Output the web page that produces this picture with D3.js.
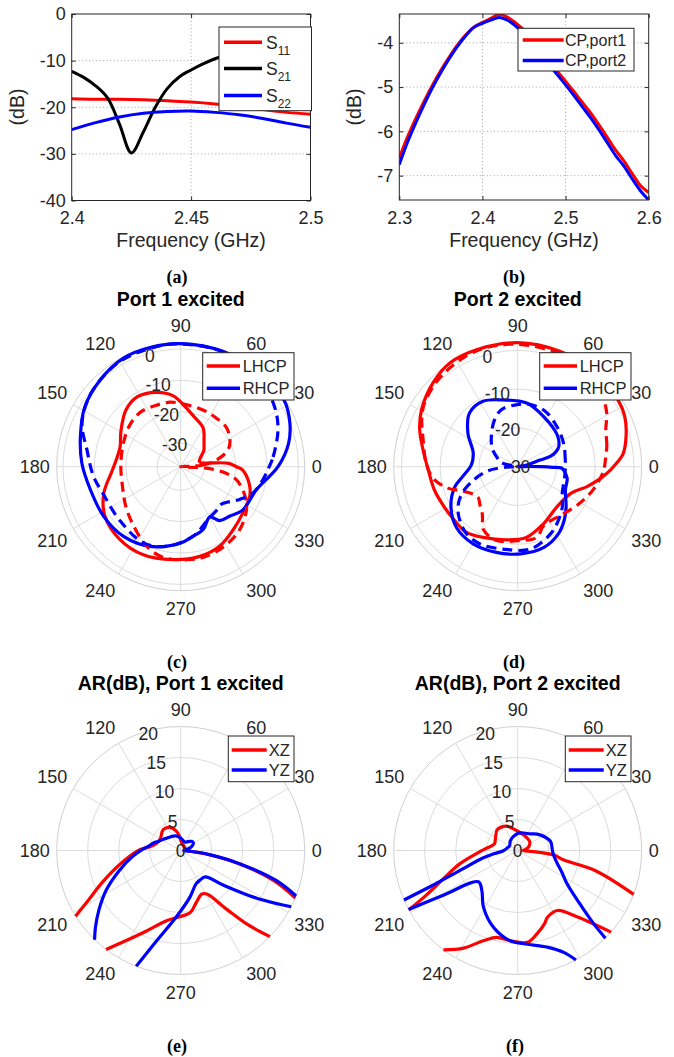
<!DOCTYPE html>
<html>
<head>
<meta charset="utf-8">
<script src="https://cdn.jsdelivr.net/npm/d3@7"></script>
<style>
  body { margin: 0; background: #fff; }
  svg { display: block; font-family: "Liberation Sans", Arial, Helvetica, sans-serif; }
</style>
</head>
<body>
<svg id="fig" width="674" height="1057"></svg>
<script>
// ---------- (a) S-parameters ----------
const freqA = [2.40, 2.41, 2.42, 2.43, 2.44, 2.45, 2.46, 2.47, 2.48, 2.49, 2.50];
const s11 = [-18.2, -18.3, -18.3, -18.4, -18.6, -18.9, -19.3, -19.8, -20.5, -21.1, -21.5];
const s22 = [-24.8, -23.3, -22.1, -21.3, -20.9, -20.8, -21.1, -21.6, -22.4, -23.4, -24.3];
const freqS21 = [2.400, 2.405, 2.410, 2.415, 2.420, 2.425, 2.430, 2.435, 2.440, 2.445, 2.450, 2.455, 2.460, 2.470, 2.480, 2.490, 2.500];
const s21 = [-12.3, -13.6, -15.4, -18.0, -23.6, -29.8, -25.3, -20.0, -16.0, -13.5, -12.0, -10.7, -9.6, -8.0, -7.0, -6.2, -5.6];
const xTicksA = [2.4, 2.45, 2.5];
const yTicksA = [0, -10, -20, -30, -40];

// ---------- (b) CP gain ----------
const freqB = [2.30, 2.31, 2.32, 2.33, 2.34, 2.35, 2.36, 2.37, 2.38, 2.39, 2.40, 2.41, 2.42, 2.43, 2.44, 2.45,
               2.46, 2.47, 2.48, 2.49, 2.50, 2.51, 2.52, 2.53, 2.54, 2.55, 2.56, 2.57, 2.58, 2.59, 2.60];
const cpPort1 = [-6.60, -6.12, -5.70, -5.31, -4.95, -4.62, -4.32, -4.05, -3.82, -3.64, -3.54, -3.45, -3.36, -3.42, -3.55, -3.71,
                 -3.92, -4.16, -4.41, -4.64, -4.87, -5.10, -5.34, -5.58, -5.85, -6.13, -6.42, -6.66, -6.95, -7.22, -7.38];
const cpPort2 = [-6.75, -6.24, -5.80, -5.39, -5.01, -4.67, -4.36, -4.08, -3.84, -3.65, -3.56, -3.49, -3.43, -3.49, -3.62, -3.79,
                 -4.00, -4.24, -4.49, -4.72, -4.95, -5.19, -5.44, -5.69, -5.96, -6.25, -6.54, -6.78, -7.07, -7.34, -7.55];
const xTicksB = [2.3, 2.4, 2.5, 2.6];
const yTicksB = [-4, -5, -6, -7];

// ---------- polar grid ----------
const thetaTicks = [0, 30, 60, 90, 120, 150, 180, 210, 240, 270, 300, 330];
const rTicksDb = [-30, -20, -10, 0];
const rTicksAr = [0, 5, 10, 15, 20];

// ---------- (c) Port 1 excited (dB) ----------
const p1LhcpSolidDeg = [0, 4, 7, 10, 16, 25, 35, 42, 48, 60, 76, 88, 96, 108, 122, 134, 149, 162, 172, 183, 199, 213, 230, 247, 265, 282, 296, 310, 323, 337, 346, 357];
const p1LhcpSolidDb  = [-19.8, -22.1, -27.4, -30.6, -31.3, -30.5, -28.5, -27.5, -26.4, -23.2, -20.8, -17.6, -14.8, -12.6, -11.3, -12.4, -15.3, -17.2, -17.0, -15.7, -11.6, -8.7, -7.3, -7.0, -7.8, -8.3, -9.3, -11.4, -12.8, -13.6, -15.0, -17.8];
const p1LhcpDashDeg  = [0, 4, 10, 19, 28, 41, 54, 68, 84, 99, 113, 126, 140, 155, 177, 199, 216, 232, 247, 259, 274, 286, 300, 313, 327, 337, 347, 353, 357];
const p1LhcpDashDb   = [-38, -30.7, -26.2, -21.7, -19.7, -18.3, -18.3, -18.1, -17.7, -16.7, -16.4, -15.9, -16.5, -17.6, -18.4, -17.9, -15.9, -13.3, -9.9, -8.1, -7.8, -7.8, -8.7, -10.0, -12.5, -15.5, -19.4, -24.1, -30.0];
const p1RhcpSolidDeg = [0, 12, 22, 33, 50, 70, 90, 104, 118, 133, 148, 163, 178, 194, 213, 231, 249, 270, 280, 290, 300, 306, 315, 325, 343, 354];
const p1RhcpSolidDb  = [-6.5, -2.4, 0.0, 1.7, 1.7, 1.6, 1.7, 1.7, 1.6, 0.2, -1.5, -4.1, -6.0, -7.8, -8.3, -8.8, -10.3, -13.2, -15.0, -16.3, -19.0, -16.3, -15.3, -13.4, -12.3, -9.0];
const p1RhcpDashDeg  = [0, 6, 21, 33, 50, 70, 90, 100, 120, 140, 156, 170, 186, 198, 222, 244, 260, 280, 299, 310, 317, 331, 340, 351];
const p1RhcpDashDb   = [-9.3, -7.9, -4.3, -1.95, 0.5, 1.5, 1.6, 1.6, 1.2, -0.5, -3.1, -7.2, -9.5, -11.2, -11.6, -10.5, -11.7, -15.0, -18.8, -19.5, -19.9, -16.0, -13.0, -11.0];

// ---------- (d) Port 2 excited (dB) ----------
const p2LhcpSolidDeg = [0, 7, 16, 25, 34, 50, 70, 90, 109, 123, 135, 149, 159, 170, 182, 196, 209, 220, 232, 244, 261, 277, 294, 314, 333, 344, 352, 358];
const p2LhcpSolidDb  = [-5.3, -2.6, -0.9, 0.5, 1.1, 1.8, 1.7, 2.0, 2.0, 2.0, 0.8, -1.1, -2.9, -5.2, -6.9, -7.7, -8.4, -8.6, -8.5, -9.7, -10.9, -11.6, -13.8, -15.5, -14.7, -11.4, -8.4, -6.0];
const p2LhcpDashDeg  = [0, 13, 23, 31, 40, 50, 65, 90, 110, 130, 145, 152, 164, 178, 188, 197, 204, 217, 225, 233, 242, 254, 270, 285, 294, 311, 327, 344, 358];
const p2LhcpDashDb   = [-7.6, -6.4, -5.3, -3.2, -1.5, -0.2, 1.0, 1.6, 1.7, 0.6, -0.8, -2.0, -4.6, -6.4, -8.0, -11.1, -14.5, -17.1, -16.2, -14.8, -11.4, -10.2, -10.9, -11.1, -13.4, -13.3, -11.7, -9.5, -7.7];
const p2RhcpSolidDeg = [0, 1, 3, 10, 15, 16.6, 17.5, 21, 26, 39, 63, 82, 102, 118, 132, 146, 163, 178, 190, 198, 211, 225, 240, 256, 272, 288, 301, 311, 320, 334, 347, 355, 358, 359];
const p2RhcpSolidDb  = [-24, -27, -30, -27.6, -25.5, -24.0, -21.2, -19.5, -18.2, -16.9, -15.4, -13.4, -12.4, -10.9, -11.4, -14.5, -18.0, -18.0, -15.6, -12.9, -9.9, -7.7, -7.0, -7.2, -7.5, -8.1, -9.7, -11.7, -13.7, -16.3, -16.9, -18.0, -18.6, -21.0];
const p2RhcpDashDeg  = [0, 8, 27, 46, 64, 79, 91, 106, 119, 142, 155, 166, 175, 182, 188, 197, 206, 214, 223, 233, 244, 260, 279, 296, 307, 318, 329, 348];
const p2RhcpDashDb   = [-17.7, -17.6, -16.7, -15.5, -14.0, -13.6, -14.0, -14.7, -17.1, -21.5, -24.0, -25.7, -29.5, -27.0, -22.3, -18.0, -13.9, -11.4, -9.6, -8.2, -7.8, -8.4, -8.5, -10.7, -12.6, -14.5, -16.6, -17.6];

// ---------- (e) axial ratio, port 1 (null = above 20 dB) ----------
const arP1XzDeg = [0, 30, 60, 82, 95, 102, 115, 130, 149, 158, 164, 173, 179, 191, 202, 209, 212, 220, 233, 239, 247, 259, 269, 279, 287, 296, 301, 308, 312, 316, 327, 337.5, 342, 347, 352, 355];
const arP1Xz    = [1.0, 0.8, 0.9, 1.2, 2.3, 3.1, 4.1, 4.4, 3.8, 3.9, 4.1, 5.0, 6.6, 9.5, 13.6, 17.4, 20, null, 20, 16.9, 14.1, 11.5, 10.7, 10.1, 8.7, 7.8, 8.2, 12.0, 16.0, 20, null, 20, 15.8, 9.9, 4.3, 1.5];
const arP1YzDeg = [0, 10, 20, 32, 40, 49, 65, 74, 90, 110, 123, 135, 147, 158, 165, 172, 178, 187, 198, 208, 216, 222, 226, 237, 249, 255, 266, 281, 295, 303, 313, 321, 328, 333, 336, 338.5, 342.5, 347.5, 352, 356];
const arP1Yz    = [0.5, 1.0, 1.9, 2.4, 2.3, 1.9, 1.5, 1.6, 2.0, 2.5, 2.7, 2.9, 3.35, 3.9, 4.6, 5.2, 6.1, 7.8, 10.4, 13.6, 16.3, 18.5, 20, null, 20, 15.1, 10.8, 7.7, 5.9, 5.7, 5.8, 8.9, 14.6, 20, null, 20, 16.2, 9.6, 4.5, 1.3];

// ---------- (f) axial ratio, port 2 ----------
const arP2XzDeg = [0, 8, 19, 36, 50, 69, 86, 100, 110, 120, 135, 151, 164, 172, 178, 184, 193, 201, 206, 208.6, 220, 233.2, 241, 249, 256.5, 265, 276, 283, 290, 294, 303.5, 312, 318.8, 330, 339.3, 345.6, 348.3, 352.9, 355.8, 358];
const arP2Xz    = [0.9, 1.3, 1.9, 2.4, 2.5, 2.7, 3.0, 3.5, 4.1, 4.5, 4.7, 4.1, 3.9, 4.5, 5.4, 6.6, 9.6, 12.9, 16.4, 20, null, 20, 18.0, 15.6, 14.4, 14.6, 14.9, 13.8, 12.6, 11.8, 11.6, 14.45, 20, null, 20, 12.8, 7.6, 5.9, 2.6, 1.0];
const arP2YzDeg = [0, 15, 28, 40, 52, 70, 87, 100, 115, 130, 150, 165, 181, 188, 192, 199, 202.5, 203.5, 206, 208.4, 211, 218.6, 228, 239, 252.5, 265, 276, 287, 294.5, 298, 306, 315, 316, 318, 326, 334, 342, 350, 355];
const arP2Yz    = [5.6, 5.5, 4.8, 4.1, 3.4, 3.0, 2.8, 2.5, 2.2, 1.9, 1.5, 1.7, 2.3, 3.9, 5.65, 9.85, 15.4, 20, null, 20, 14.0, 8.1, 8.65, 10.7, 13.0, 14.6, 15.2, 16.3, 18.1, 20, null, 20, 17.1, 14.45, 9.6, 7.9, 6.7, 6.0, 5.75];

// ---------- drawing ----------
const svg = d3.select("#fig");
const RED = "#ff0000", BLUE = "#0000ff", BLACK = "#000000", INK = "#262626";
const RAD = Math.PI / 180;

function legendBox(g, box, entries, lx0, lx1, tx, fontSize) {
  const lg = g.append("g");
  lg.append("rect").attr("x", box[0]).attr("y", box[1])
    .attr("width", box[2] - box[0]).attr("height", box[3] - box[1])
    .attr("fill", "#fff").attr("stroke", INK).attr("stroke-width", 1);
  entries.forEach(e => {
    lg.append("line").attr("x1", lx0).attr("x2", lx1).attr("y1", e.y).attr("y2", e.y)
      .attr("stroke", e.color).attr("stroke-width", 3.5);
    const t = lg.append("text").attr("x", tx).attr("y", e.y).attr("dy", "0.36em")
      .attr("font-size", fontSize).attr("fill", INK);
    if (e.sub) {
      t.append("tspan").text(e.label);
      t.append("tspan").attr("font-size", 12).attr("dy", 6).text(e.sub);
    } else {
      t.text(e.label);
    }
  });
}

function drawCartesian(cfg) {
  const x = d3.scaleLinear().domain(cfg.xDomain).range([cfg.left, cfg.right]);
  const y = d3.scaleLinear().domain(cfg.yDomain).range([cfg.bottom, cfg.top]);
  const g = svg.append("g");

  const grid = g.append("g").attr("stroke", "#a3a3a3").attr("stroke-width", 1).attr("stroke-dasharray", "1,2.5");
  grid.selectAll(".gx").data(cfg.xTicks.filter(t => x(t) > cfg.left + 1 && x(t) < cfg.right - 1)).join("line")
    .attr("x1", d => x(d)).attr("x2", d => x(d)).attr("y1", cfg.top).attr("y2", cfg.bottom);
  grid.selectAll(".gy").data(cfg.yTicks.filter(t => y(t) > cfg.top + 1 && y(t) < cfg.bottom - 1)).join("line")
    .attr("y1", d => y(d)).attr("y2", d => y(d)).attr("x1", cfg.left).attr("x2", cfg.right);

  g.append("clipPath").attr("id", cfg.id).append("rect")
    .attr("x", cfg.left).attr("y", cfg.top).attr("width", cfg.right - cfg.left).attr("height", cfg.bottom - cfg.top);
  const lines = g.append("g").attr("clip-path", `url(#${cfg.id})`);
  const line = d3.line().x(d => x(d[0])).y(d => y(d[1])).curve(d3.curveCatmullRom);
  cfg.series.forEach(s => {
    lines.append("path").datum(s.x.map((xv, i) => [xv, s.y[i]]))
      .attr("d", line).attr("fill", "none").attr("stroke", s.color)
      .attr("stroke-width", 3).attr("stroke-linejoin", "round");
  });

  const ax = g.append("g").attr("transform", `translate(0,${cfg.bottom})`)
    .call(d3.axisBottom(x).tickValues(cfg.xTicks).tickFormat(d => String(d)).tickSizeInner(-4).tickSizeOuter(0).tickPadding(11));
  const ay = g.append("g").attr("transform", `translate(${cfg.left},0)`)
    .call(d3.axisLeft(y).tickValues(cfg.yTicks).tickFormat(d => String(d)).tickSizeInner(-4).tickSizeOuter(0).tickPadding(6));
  const axT = g.append("g").attr("transform", `translate(0,${cfg.top})`)
    .call(d3.axisTop(x).tickValues(cfg.xTicks).tickFormat("").tickSizeInner(-4).tickSizeOuter(0));
  const ayR = g.append("g").attr("transform", `translate(${cfg.right},0)`)
    .call(d3.axisRight(y).tickValues(cfg.yTicks).tickFormat("").tickSizeInner(-4).tickSizeOuter(0));
  [ax, ay, axT, ayR].forEach(a => {
    a.select(".domain").remove();
    a.attr("font-size", 18).attr("font-family", null);
    a.selectAll("text").attr("fill", INK);
    a.selectAll("line").attr("stroke", INK);
  });

  g.append("rect").attr("x", cfg.left).attr("y", cfg.top)
    .attr("width", cfg.right - cfg.left).attr("height", cfg.bottom - cfg.top)
    .attr("fill", "none").attr("stroke", INK).attr("stroke-width", 1);

  g.append("text").attr("x", (cfg.left + cfg.right) / 2).attr("y", 240).attr("dy", "0.35em")
    .attr("text-anchor", "middle").attr("font-size", 19.5).attr("fill", INK).text("Frequency (GHz)");
  g.append("text").attr("transform", `translate(${cfg.yLabelX},107) rotate(-90)`).attr("dy", "0.35em")
    .attr("text-anchor", "middle").attr("font-size", 19.5).attr("fill", INK).text("(dB)");

  legendBox(g, cfg.legend.box, cfg.legend.entries, cfg.legend.lx0, cfg.legend.lx1, cfg.legend.tx, cfg.legend.fontSize);
}

function rotateToGap(deg, val) {
  const k = val.indexOf(null);
  if (k < 0) return deg.map((t, i) => ({ t, v: val[i] }));
  const pts = deg.map((t, i) => ({ t, v: val[i] }));
  return pts.slice(k).concat(pts.slice(0, k));
}

function drawPolar(cfg) {
  const R = 124;
  const g = svg.append("g").attr("transform", `translate(${cfg.cx},${cfg.cy})`);
  const r = d3.scaleLinear().domain(cfg.rDomain).range([0, R]).clamp(true);

  const grid = g.append("g").attr("fill", "none").attr("stroke", "#dcdcdc").attr("stroke-width", 1);
  grid.selectAll("circle").data(cfg.rTicks.filter(t => r(t) > 0.5 && r(t) < R - 0.5)).join("circle")
    .attr("r", d => r(d));
  grid.append("circle").attr("r", R).attr("stroke", "#d0d0d0");
  grid.selectAll("line").data(thetaTicks).join("line")
    .attr("x1", 0).attr("y1", 0)
    .attr("x2", d => R * Math.cos(d * RAD)).attr("y2", d => -R * Math.sin(d * RAD));

  cfg.series.forEach(s => {
    const closed = s.val.indexOf(null) < 0;
    const pts = rotateToGap(s.deg, s.val);
    const line = d3.lineRadial()
      .angle(d => (90 - d.t) * RAD)
      .radius(d => r(d.v))
      .defined(d => d.v !== null)
      .curve(closed ? d3.curveCatmullRomClosed : d3.curveCatmullRom);
    g.append("path").attr("d", line(pts)).attr("fill", "none")
      .attr("stroke", s.color).attr("stroke-width", 3.2)
      .attr("stroke-linejoin", "round")
      .attr("stroke-dasharray", s.dashed ? "10,6" : null);
  });

  // angle labels
  g.append("g").selectAll("text").data(thetaTicks).join("text")
    .attr("font-size", 18).attr("fill", INK)
    .attr("x", d => (R + 7) * Math.cos(d * RAD))
    .attr("y", d => {
      const s = Math.sin(d * RAD);
      const py = -(R + 11) * s;
      if (s > 0.1) return py;
      if (s < -0.1) return py + 13;
      return py + 6.5;
    })
    .attr("text-anchor", d => {
      const c = Math.cos(d * RAD);
      return c > 0.1 ? "start" : (c < -0.1 ? "end" : "middle");
    })
    .text(d => String(d));

  // radial labels
  const la = 105.5 * RAD;
  g.append("g").selectAll("text").data(cfg.rTicks).join("text")
    .attr("font-size", 17.5).attr("fill", INK).attr("text-anchor", "middle").attr("dy", "0.36em")
    .attr("x", d => 0.98 * r(d) * Math.cos(la))
    .attr("y", d => -0.98 * r(d) * Math.sin(la))
    .text(d => String(d));

  svg.append("text").attr("x", cfg.cx).attr("y", cfg.titleY).attr("dy", "0.35em")
    .attr("text-anchor", "middle").attr("font-size", 19.5).attr("font-weight", "bold").attr("fill", BLACK)
    .text(cfg.title);

  legendBox(svg, cfg.legend.box, cfg.legend.entries, cfg.legend.lx0, cfg.legend.lx1, cfg.legend.tx, 16.5);
}

// (a)
drawCartesian({
  id: "clipA", left: 71.7, right: 310.5, top: 14, bottom: 200.5,
  xDomain: [2.4, 2.5], yDomain: [-40, 0], xTicks: xTicksA, yTicks: yTicksA, yLabelX: 16.7,
  series: [
    { x: freqA, y: s11, color: RED },
    { x: freqS21, y: s21, color: BLACK },
    { x: freqA, y: s22, color: BLUE }
  ],
  legend: {
    box: [219, 27, 311.5, 110.7], lx0: 224, lx1: 262, tx: 266, fontSize: 17.5,
    entries: [
      { y: 42.3, color: RED, label: "S", sub: "11" },
      { y: 68.5, color: BLACK, label: "S", sub: "21" },
      { y: 95.5, color: BLUE, label: "S", sub: "22" }
    ]
  }
});

// (b)
drawCartesian({
  id: "clipB", left: 399.3, right: 648.7, top: 14, bottom: 200,
  xDomain: [2.3, 2.6], yDomain: [-7.55, -3.35], xTicks: xTicksB, yTicks: yTicksB, yLabelX: 353.7,
  series: [
    { x: freqB, y: cpPort1, color: RED },
    { x: freqB, y: cpPort2, color: BLUE }
  ],
  legend: {
    box: [518, 28.3, 634, 71], lx0: 522.7, lx1: 563.7, tx: 565, fontSize: 16,
    entries: [
      { y: 40, color: RED, label: "CP,port1" },
      { y: 60.5, color: BLUE, label: "CP,port2" }
    ]
  }
});

// (c)
drawPolar({
  cx: 180.7, cy: 466.7, rDomain: [-37.5, 2], rTicks: rTicksDb,
  title: "Port 1 excited", titleY: 299,
  series: [
    { deg: p1LhcpSolidDeg, val: p1LhcpSolidDb, color: RED },
    { deg: p1RhcpSolidDeg, val: p1RhcpSolidDb, color: BLUE },
    { deg: p1LhcpDashDeg, val: p1LhcpDashDb, color: RED, dashed: true },
    { deg: p1RhcpDashDeg, val: p1RhcpDashDb, color: BLUE, dashed: true }
  ],
  legend: {
    box: [202.7, 352.7, 294, 400], lx0: 206.7, lx1: 240, tx: 242.7,
    entries: [{ y: 366, color: RED, label: "LHCP" }, { y: 388.3, color: BLUE, label: "RHCP" }]
  }
});

// (d)
drawPolar({
  cx: 517.7, cy: 466.7, rDomain: [-30, 2], rTicks: rTicksDb,
  title: "Port 2 excited", titleY: 299,
  series: [
    { deg: p2LhcpSolidDeg, val: p2LhcpSolidDb, color: RED },
    { deg: p2RhcpSolidDeg, val: p2RhcpSolidDb, color: BLUE },
    { deg: p2LhcpDashDeg, val: p2LhcpDashDb, color: RED, dashed: true },
    { deg: p2RhcpDashDeg, val: p2RhcpDashDb, color: BLUE, dashed: true }
  ],
  legend: {
    box: [539.7, 352.7, 631, 400], lx0: 543.7, lx1: 577, tx: 579.7,
    entries: [{ y: 366, color: RED, label: "LHCP" }, { y: 388.3, color: BLUE, label: "RHCP" }]
  }
});

// (e)
drawPolar({
  cx: 180.7, cy: 850.5, rDomain: [0, 20], rTicks: rTicksAr,
  title: "AR(dB), Port 1 excited", titleY: 683.3,
  series: [
    { deg: arP1XzDeg, val: arP1Xz, color: RED },
    { deg: arP1YzDeg, val: arP1Yz, color: BLUE }
  ],
  legend: {
    box: [228.3, 736, 294, 781.7], lx0: 231.7, lx1: 266.7, tx: 268.7,
    entries: [{ y: 750, color: RED, label: "XZ" }, { y: 770, color: BLUE, label: "YZ" }]
  }
});

// (f)
drawPolar({
  cx: 517.7, cy: 850.5, rDomain: [0, 20], rTicks: rTicksAr,
  title: "AR(dB), Port 2 excited", titleY: 683.3,
  series: [
    { deg: arP2XzDeg, val: arP2Xz, color: RED },
    { deg: arP2YzDeg, val: arP2Yz, color: BLUE }
  ],
  legend: {
    box: [565.3, 736, 631, 781.7], lx0: 568.7, lx1: 603.7, tx: 605.7,
    entries: [{ y: 750, color: RED, label: "XZ" }, { y: 770, color: BLUE, label: "YZ" }]
  }
});

// sub-figure captions
const captions = [
  { x: 177, y: 277, t: "(a)" }, { x: 514, y: 277, t: "(b)" },
  { x: 177, y: 662, t: "(c)" }, { x: 514, y: 662, t: "(d)" },
  { x: 177, y: 1046, t: "(e)" }, { x: 515, y: 1046, t: "(f)" }
];
svg.append("g").selectAll("text").data(captions).join("text")
  .attr("x", d => d.x).attr("y", d => d.y).attr("dy", "0.35em")
  .attr("text-anchor", "middle")
  .attr("font-family", "'Liberation Serif', 'Times New Roman', serif")
  .attr("font-weight", "bold").attr("font-size", 18).attr("fill", BLACK)
  .text(d => d.t);
</script>
</body>
</html>
